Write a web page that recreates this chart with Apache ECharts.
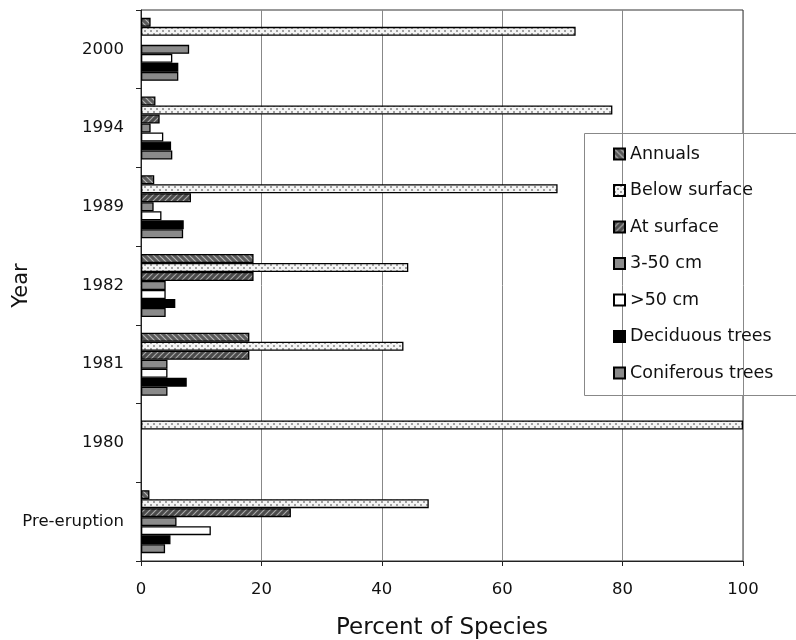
<!DOCTYPE html>
<html><head><meta charset="utf-8">
<script src="https://cdn.jsdelivr.net/npm/echarts@6/dist/echarts.min.js"></script>
<style>html,body{margin:0;padding:0;background:#fff}#c{width:796px;height:640px}</style>
</head><body><div id="c"></div>
<script>
const categories = ['2000', '1994', '1989', '1982', '1981', '1980', 'Pre-eruption'];
const seriesNames = ['Annuals', 'Below surface', 'At surface', '3-50 cm', '>50 cm', 'Deciduous trees', 'Coniferous trees'];
const annuals      = [1.6, 2.4, 2.2, 18.7, 18.0, null, 1.4];
const belowSurface = [72.2, 78.3, 69.2, 44.4, 43.6, 100, 47.8];
const atSurface    = [null, 3.1, 8.3, 18.7, 18.0, null, 24.9];
const cm3to50      = [8.0, 1.6, 2.1, 4.1, 4.4, null, 5.9];
const over50       = [5.2, 3.7, 3.4, 4.1, 4.4, null, 11.6];
const deciduous    = [6.2, 5.0, 7.1, 5.7, 7.6, null, 4.9];
const coniferous   = [6.2, 5.2, 7.0, 4.1, 4.4, null, 4.0];
const xTicks = [0, 20, 40, 60, 80, 100];

function pattern(bg, fg, kind) {
  const c = document.createElement('canvas');
  c.width = 6; c.height = 6;
  const g = c.getContext('2d');
  g.fillStyle = bg; g.fillRect(0, 0, 6, 6);
  g.strokeStyle = fg; g.fillStyle = fg; g.lineWidth = 1.2;
  if (kind === 'back') {
    g.beginPath(); g.moveTo(0, 0); g.lineTo(6, 6); g.moveTo(-3, 3); g.lineTo(3, 9); g.moveTo(3, -3); g.lineTo(9, 3); g.stroke();
  } else if (kind === 'fwd') {
    g.beginPath(); g.moveTo(0, 6); g.lineTo(6, 0); g.moveTo(-3, 3); g.lineTo(3, -3); g.moveTo(3, 9); g.lineTo(9, 3); g.stroke();
  } else if (kind === 'dots') {
    g.fillRect(0, 0, 2, 2); g.fillRect(3, 3, 2, 2);
  }
  return { image: c, repeat: 'repeat' };
}

const styles = [
  pattern('#5a5a5a', '#b5b5b5', 'back'),
  pattern('#f4f4f4', '#a0a0a0', 'dots'),
  pattern('#4a4a4a', '#a8a8a8', 'fwd'),
  '#8c8c8c',
  '#ffffff',
  '#000000',
  '#8a8a8a'
];
const dataSets = [annuals, belowSurface, atSurface, cm3to50, over50, deciduous, coniferous];

const font = 'DejaVu Sans, sans-serif';
const chart = echarts.init(document.getElementById('c'));
chart.setOption({
  backgroundColor: '#fff',
  animation: false,
  grid: { left: 141, right: 53, top: 10, bottom: 79, show: true, borderColor: '#333', borderWidth: 1,
    containLabel: false, outerBoundsMode: 'none' },
  xAxis: {
    type: 'value', min: 0, max: 100, interval: 20,
    name: 'Percent of Species', nameLocation: 'middle', nameGap: 56, nameMoveOverlap: false,
    nameTextStyle: { fontSize: 23, color: '#111', fontFamily: font },
    axisLine: { show: true, lineStyle: { color: '#222', width: 1 } },
    axisTick: { show: true, length: 5, lineStyle: { color: '#222' } },
    axisLabel: { fontSize: 16.5, color: '#111', margin: 20, fontFamily: font,
      formatter: v => xTicks.includes(v) ? String(v) : '' },
    splitLine: { show: true, lineStyle: { color: '#888', width: 1 } }
  },
  yAxis: {
    type: 'category', data: categories, inverse: true,
    name: 'Year', nameLocation: 'middle', nameGap: 109, nameRotate: 90, nameMoveOverlap: false,
    nameTextStyle: { fontSize: 21, color: '#111', fontFamily: font },
    axisLine: { show: true, lineStyle: { color: '#222', width: 1 } },
    axisTick: { show: true, length: 5, lineStyle: { color: '#222' } },
    axisLabel: { fontSize: 16.5, color: '#111', margin: 17, fontFamily: font }
  },
  legend: {
    orient: 'vertical', left: 608, top: 140,
    itemWidth: 11, itemHeight: 11, itemGap: 18.5, icon: 'rect',
    textStyle: { fontSize: 17.5, color: '#111', fontFamily: font },
    data: seriesNames
  },
  graphic: [{
    type: 'rect', left: 584, top: 133, z: 0,
    shape: { width: 220, height: 262 },
    style: { fill: '#fff', stroke: '#888', lineWidth: 1 }
  }],
  series: seriesNames.map((n, i) => ({
    name: n, type: 'bar', data: dataSets[i],
    barWidth: 9, barGap: '0%',
    itemStyle: { color: styles[i], borderColor: '#000', borderWidth: 1.3 },
    z: 2
  }))
});
</script></body></html>
